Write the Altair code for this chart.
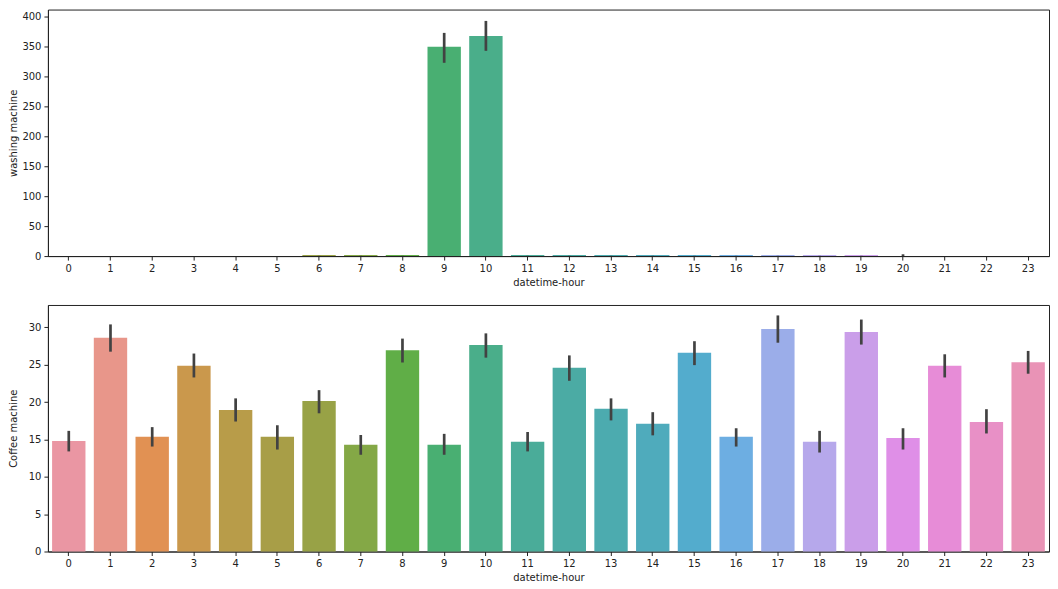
import math
import colorsys
import altair as alt
import pandas as pd

hours = list(range(24))

# washing machine: mean, ci low, ci high
wash_mean = [0, 0, 0, 0, 0, 0, 1.6, 1.6, 1.6, 350, 368, 1.6, 1.6, 1.6, 1.6, 1.6, 1.6, 1.6, 1.6, 1.6, 0.2, 0, 0, 0]
wash_lo = [0, 0, 0, 0, 0, 0, 1.5, 1.5, 1.5, 323, 343, 1.5, 1.5, 1.5, 1.5, 1.5, 1.5, 1.5, 1.5, 1.5, 0.0, 0, 0, 0]
wash_hi = [0, 0, 0, 0, 0, 0, 1.8, 1.8, 1.8, 373, 393, 1.8, 1.8, 1.8, 1.8, 1.8, 1.8, 1.8, 1.8, 1.8, 3.0, 0, 0, 0]

coffee_mean = [14.8, 28.6, 15.35, 24.85, 18.95, 15.35, 20.15, 14.3, 26.95, 14.3, 27.65, 14.7,
               24.6, 19.1, 17.1, 26.6, 15.35, 29.8, 14.7, 29.4, 15.2, 24.85, 17.35, 25.35]
coffee_lo = [13.4, 26.75, 14.05, 23.3, 17.4, 13.65, 18.5, 12.95, 25.3, 12.95, 25.95, 13.4,
             22.85, 17.55, 15.55, 24.95, 14.05, 27.95, 13.25, 27.7, 13.65, 23.3, 15.8, 23.8]
coffee_hi = [16.15, 30.4, 16.65, 26.5, 20.5, 16.9, 21.6, 15.6, 28.5, 15.75, 29.2, 16.0,
             26.25, 20.5, 18.65, 28.15, 16.5, 31.6, 16.15, 31.05, 16.5, 26.4, 19.05, 26.85]

# ---- seaborn-like husl palette (l=.7, desaturated 0.75) ----
_m = [[3.2406, -1.5372, -0.4986], [-0.9689, 1.8758, 0.0415], [0.0557, -0.2040, 1.0570]]
refU, refV = 0.19784, 0.46834


def _max_chroma(L, H):
    hrad = math.radians(H)
    sinH, cosH = math.sin(hrad), math.cos(hrad)
    sub1 = (L + 16) ** 3 / 1560896.0
    sub2 = sub1 if sub1 > 0.008856 else L / 903.3
    result = float("inf")
    for m1, m2, m3 in _m:
        top = (0.99915 * m1 + 1.05122 * m2 + 1.14460 * m3) * sub2
        rb = 0.86330 * m3 - 0.17266 * m2
        lb = 0.12949 * m3 - 0.38848 * m1
        bottom = (rb * sinH + lb * cosH) * sub2
        for t in (0.0, 1.0):
            C = L * (top - 1.05122 * t) / (bottom + 0.17266 * sinH * t)
            if 0.0 < C < result:
                result = C
    return result


def _f_inv(t):
    return t ** 3 if t ** 3 > 0.008856 else (116.0 * t - 16.0) / 903.3


def _from_linear(c):
    return 12.92 * c if c <= 0.0031308 else 1.055 * c ** (1 / 2.4) - 0.055


def husl_to_rgb(H, S, L):
    C = _max_chroma(L, H) / 100.0 * S
    hr = math.radians(H)
    U, V = math.cos(hr) * C, math.sin(hr) * C
    Y = _f_inv((L + 16.0) / 116.0)
    vu = U / (13.0 * L) + refU
    vv = V / (13.0 * L) + refV
    X = -(9.0 * Y * vu) / ((vu - 4.0) * vv - vu * vv)
    Z = (9.0 * Y - 15.0 * vv * Y - vv * X) / (3.0 * vv)
    rgb = [_from_linear(sum(a * b for a, b in zip(row, (X, Y, Z)))) for row in _m]
    return [min(1, max(0, c)) for c in rgb]


def palette(n):
    out = []
    for i in range(n):
        h = ((i / n) + 0.01) % 1 * 359
        r, g, b = husl_to_rgb(h, 0.9 * 99, 0.7 * 99)
        hh, ll, ss = colorsys.rgb_to_hls(r, g, b)
        r, g, b = colorsys.hls_to_rgb(hh, ll, ss * 0.75)
        out.append("#%02x%02x%02x" % (round(r * 255), round(g * 255), round(b * 255)))
    return out


colors = palette(24)
hour_labels = [str(h) for h in hours]

wash_df = pd.DataFrame({"hour": hour_labels, "mean": wash_mean, "lo": wash_lo, "hi": wash_hi})
coffee_df = pd.DataFrame({"hour": hour_labels, "mean": coffee_mean, "lo": coffee_lo, "hi": coffee_hi})

W, H = 1003, 247

xscale = alt.Scale(domain=hour_labels, paddingInner=0.2, paddingOuter=0.1)
color_scale = alt.Scale(domain=hour_labels, range=colors)

axis_common = dict(
    labelFont="DejaVu Sans", titleFont="DejaVu Sans", labelFontSize=10, titleFontSize=10,
    titleFontWeight="normal", labelColor="#222222", titleColor="#222222",
    domainColor="#222222", tickColor="#222222", tickSize=4, grid=False, labelPadding=3,
)


def panel(df, ytitle, ymax, ystep):
    base = alt.Chart(df)
    xaxis = alt.Axis(title="datetime-hour", labelAngle=0, titlePadding=4, **axis_common)
    yaxis = alt.Axis(title=ytitle, values=list(range(0, int(ymax) + 1, ystep)),
                     labelOverlap=False, titlePadding=3, minExtent=26, maxExtent=26,
                     **axis_common)
    yscale = alt.Scale(domain=[0, ymax], nice=False)
    bars = base.mark_bar().encode(
        x=alt.X("hour:N", scale=xscale, sort=hour_labels, axis=xaxis),
        y=alt.Y("mean:Q", scale=yscale, axis=yaxis),
        color=alt.Color("hour:N", scale=color_scale, legend=None),
    )
    err = base.mark_rule(color="#424242", strokeWidth=2.7).encode(
        x=alt.X("hour:N", scale=xscale, sort=hour_labels, axis=xaxis),
        y=alt.Y("lo:Q", scale=yscale, axis=yaxis),
        y2="hi:Q",
    )
    return alt.layer(bars, err).properties(width=W, height=H)


top = panel(wash_df, "washing machine", 412, 50)
bottom = panel(coffee_df, "Coffee machine", 33, 5)

chart = alt.vconcat(top, bottom, spacing=16).properties(
    padding={"left": 0, "top": 0, "right": 0, "bottom": 0}
).configure_view(
    stroke="#222222", strokeWidth=1
)

chart.save("out.html", embed_options={"renderer": "svg", "actions": False})
